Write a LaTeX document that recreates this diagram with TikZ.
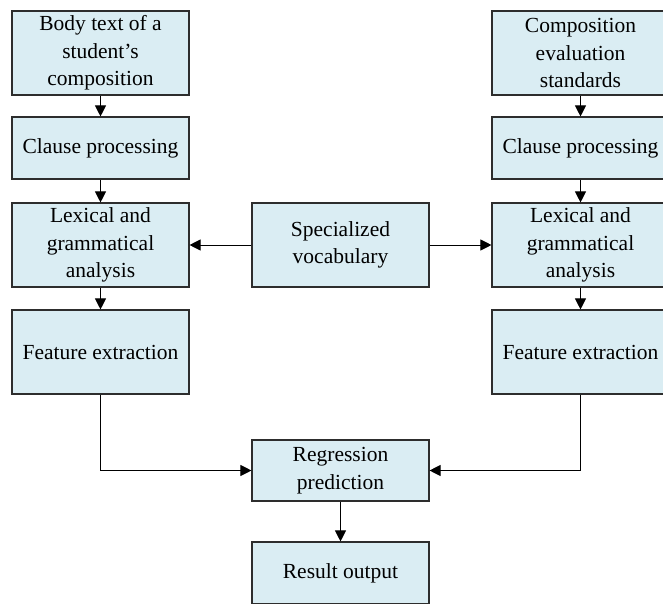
\documentclass[tikz,border=0pt]{standalone}
\usepackage{fontspec}
\setmainfont{Liberation Serif}
\usetikzlibrary{arrows.meta}

\definecolor{boxfill}{RGB}{218,237,243}
\definecolor{boxline}{RGB}{45,45,45}

\tikzset{
  stage/.style={draw=boxline, line width=1.1pt, fill=boxfill, align=center,
    minimum width=177pt, inner sep=0pt, font=\fontsize{21.5}{27.5}\selectfont},
  tall/.style={stage, minimum height=84pt},
  flat/.style={stage, minimum height=62pt},
  flow/.style={draw=black, line width=1pt, -{Triangle[length=11pt,width=11pt]}}
}

\begin{document}
\begin{tikzpicture}[x=1pt,y=-1pt]
\useasboundingbox (0,0) rectangle (663,604);
% left column
\node[tall] (bodyL) at (100.5,53) {Body text of a\\student's\\composition};
\node[flat] (clauseL) at (100.5,148) {Clause processing};
\node[tall] (lexL) at (100.5,245) {Lexical and\\grammatical\\analysis};
\node[tall] (featL) at (100.5,352) {Feature extraction};
% right column
\node[tall] (stdR) at (580.5,53) {Composition\\evaluation\\standards};
\node[flat] (clauseR) at (580.5,148) {Clause processing};
\node[tall] (lexR) at (580.5,245) {Lexical and\\grammatical\\analysis};
\node[tall] (featR) at (580.5,352) {Feature extraction};
% middle
\node[tall] (vocab) at (340.5,245) {Specialized\\vocabulary};
\node[flat, minimum height=61pt] (regr) at (340.5,470.5) {Regression\\prediction};
\node[flat] (result) at (340.5,573) {Result output};

\draw[flow] (bodyL) -- (clauseL);
\draw[flow] (clauseL) -- (lexL);
\draw[flow] (lexL) -- (featL);
\draw[flow] (stdR) -- (clauseR);
\draw[flow] (clauseR) -- (lexR);
\draw[flow] (lexR) -- (featR);
\draw[flow] (vocab) -- (lexL);
\draw[flow] (vocab) -- (lexR);
\draw[flow] (featL.south) |- (regr.west);
\draw[flow] (featR.south) |- (regr.east);
\draw[flow] (regr) -- (result);
\end{tikzpicture}
\end{document}
